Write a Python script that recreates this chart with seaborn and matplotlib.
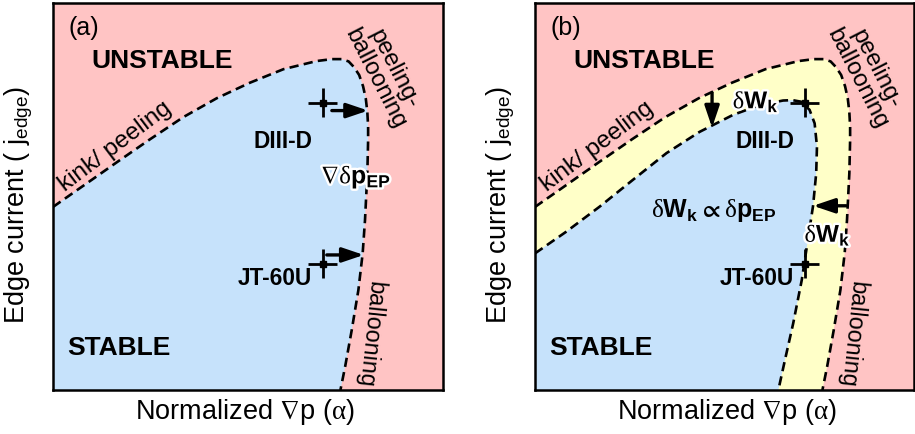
import matplotlib
matplotlib.use("Agg")
import matplotlib.pyplot as plt
import matplotlib.patheffects as pe
import pandas as pd
import seaborn as sns

# ---- stability boundaries (normalized alpha, normalized j_edge) ----
outer_x = [0.000, 0.078, 0.163, 0.249, 0.334, 0.420, 0.505, 0.591, 0.676, 0.715,
           0.740, 0.758, 0.772, 0.785, 0.795, 0.802, 0.806, 0.808, 0.808, 0.806,
           0.800, 0.794, 0.783, 0.766, 0.749, 0.737]
outer_y = [0.473, 0.528, 0.588, 0.648, 0.705, 0.754, 0.794, 0.829, 0.850, 0.855,
           0.855, 0.849, 0.834, 0.814, 0.785, 0.753, 0.718, 0.680, 0.646, 0.560,
           0.439, 0.353, 0.258, 0.155, 0.060, 0.000]
inner_x = [0.000, 0.080, 0.166, 0.251, 0.337, 0.422, 0.508, 0.576, 0.636, 0.660,
           0.682, 0.704, 0.717, 0.723, 0.721, 0.713, 0.697, 0.684, 0.662, 0.641, 0.624]
inner_y = [0.353, 0.409, 0.474, 0.543, 0.612, 0.667, 0.711, 0.736, 0.748, 0.749,
           0.745, 0.724, 0.689, 0.629, 0.560, 0.476, 0.370, 0.284, 0.172, 0.078, 0.000]

# ---- experimental points ----
exp_names = ["DIII-D", "JT-60U"]
exp_x = [0.6915, 0.6915]
exp_y = [0.742, 0.326]
exp_xerr = [0.037, 0.037]
exp_yerr = [0.0375, 0.0375]
exp_label_x = [0.591, 0.569]
exp_label_y = [0.642, 0.289]

# ---- arrows (start -> end) ----
arrows_a = [((0.715, 0.722), (0.808, 0.722)), ((0.702, 0.349), (0.797, 0.349))]
arrows_b = [((0.454, 0.768), (0.454, 0.678)), ((0.798, 0.476), (0.713, 0.476))]

PINK = "#FFC4C4"
BLUE = "#C6E2FB"
YELLOW = "#FFFFC8"

sns.set_theme(style="white")
plt.rcParams["font.family"] = ["Liberation Sans", "DejaVu Sans"]
plt.rcParams["text.color"] = "black"
plt.rcParams["axes.labelcolor"] = "black"
plt.rcParams["mathtext.fontset"] = "custom"
plt.rcParams["mathtext.rm"] = "Liberation Serif"
plt.rcParams["mathtext.bf"] = "Liberation Sans:bold"
plt.rcParams["mathtext.sf"] = "Liberation Sans"
plt.rcParams["mathtext.it"] = "Liberation Sans:italic"
plt.rcParams["mathtext.fallback"] = "stix"

fig = plt.figure(figsize=(9.15, 4.34), dpi=100)
axA = fig.add_axes([53 / 915, 44 / 434, 390 / 915, 387 / 434])
axB = fig.add_axes([535 / 915, 44 / 434, 379 / 915, 387 / 434])

DASH = (0, (3.5, 2.0))
halo = [pe.withStroke(linewidth=3.5, foreground="white")]


def setup(ax, width_px):
    ax.set_facecolor(PINK)
    ax.set_xlim(0, width_px / 390)
    ax.set_ylim(0, 1)
    ax.set_xticks([])
    ax.set_yticks([])
    for s in ax.spines.values():
        s.set_color("black")
        s.set_linewidth(1.8)
        s.set_zorder(10)
    ax.set_xlabel(r"Normalized $\mathrm{\nabla}$p ($\mathrm{\alpha}$)", fontsize=19.5)
    ax.set_ylabel(r"Edge current ( j$_\mathsf{edge}$)", fontsize=19.5)
    ax.xaxis.set_label_coords(192 / width_px, -0.018)
    ax.yaxis.set_label_coords(-18 / width_px, 0.478)


def boundary(ax, xs, ys):
    df = pd.DataFrame({"a": xs, "j": ys})
    sns.lineplot(data=df, x="a", y="j", sort=False, estimator=None, ax=ax,
                 color="black", linewidth=1.9, linestyle=DASH, zorder=4)


def points(ax):
    ax.errorbar(exp_x, exp_y, xerr=exp_xerr, yerr=exp_yerr, fmt="s", color="black",
                ms=5, elinewidth=2.0, capsize=0, zorder=6)
    for name, lx, ly in zip(exp_names, exp_label_x, exp_label_y):
        ax.text(lx, ly, name, fontsize=16.3, fontweight="bold", ha="center", va="center", zorder=7)


def arrows(ax, lst):
    for (s, e) in lst:
        ax.annotate("", xy=e, xytext=s,
                    arrowprops=dict(arrowstyle="-|>,head_length=0.65,head_width=0.22",
                                    mutation_scale=20, lw=2.4, color="black",
                                    shrinkA=0, shrinkB=0), zorder=7)


def common_text(ax, tag):
    ax.text(0.078, 0.935, tag, fontsize=18, ha="center", va="center")
    ax.text(0.281, 0.850, "UNSTABLE", fontsize=19, fontweight="bold", ha="center", va="center")
    ax.text(0.168, 0.108, "STABLE", fontsize=19, fontweight="bold", ha="center", va="center")
    ax.text(0.159, 0.629, "kink/ peeling", fontsize=17.5, rotation=37,
            rotation_mode="anchor", ha="center", va="center")
    ax.text(0.849, 0.817, "peeling-\nballooning", fontsize=17.3, rotation=-63,
            rotation_mode="anchor", ha="center", va="center", multialignment="center",
            linespacing=0.95)
    ax.text(0.814, 0.144, "ballooning", fontsize=16.8, rotation=-96,
            rotation_mode="anchor", ha="center", va="center")


# ---- panel (a) ----
setup(axA, 390)
axA.fill(outer_x + [0.0], outer_y + [0.0], color=BLUE, lw=0, zorder=1)
boundary(axA, outer_x, outer_y)
points(axA)
arrows(axA, arrows_a)
common_text(axA, "(a)")
axA.text(0.777, 0.534, r"$\mathrm{\nabla\delta}\mathbf{p_{EP}}$", fontsize=18,
         ha="center", va="baseline", zorder=8, path_effects=halo)

# ---- panel (b) ----
setup(axB, 379)
axB.fill(outer_x + [0.0], outer_y + [0.0], color=YELLOW, lw=0, zorder=1)
axB.fill(inner_x + [0.0], inner_y + [0.0], color=BLUE, lw=0, zorder=2)
boundary(axB, outer_x, outer_y)
boundary(axB, inner_x, inner_y)
points(axB)
arrows(axB, arrows_b)
common_text(axB, "(b)")
axB.text(0.566, 0.728, r"$\mathrm{\delta}\mathbf{W_k}$", fontsize=17.5,
         ha="center", va="baseline", zorder=8, path_effects=halo)
axB.text(0.750, 0.383, r"$\mathrm{\delta}\mathbf{W_k}$", fontsize=17.5,
         ha="center", va="baseline", zorder=8, path_effects=halo)
axB.text(0.459, 0.448, r"$\mathrm{\delta}\mathbf{W_k}\mathbf{\propto}\mathrm{\delta}\mathbf{p_{EP}}$",
         fontsize=18, ha="center", va="baseline", zorder=8)

fig.savefig("out.png", dpi=100)
